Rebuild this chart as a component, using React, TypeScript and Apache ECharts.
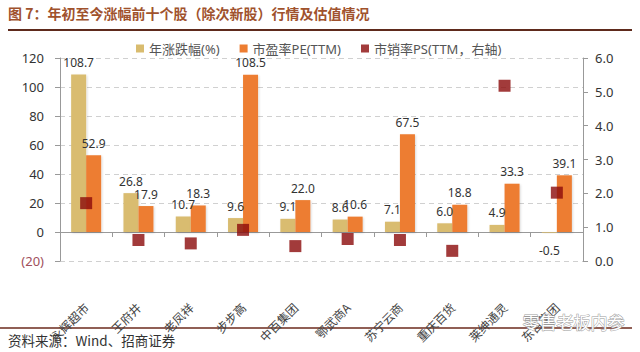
import React, { useEffect, useRef } from "react";
import * as echarts from "echarts";

const categories = ["永辉超市", "王府井", "老凤祥", "步步高", "中百集团", "鄂武商A", "苏宁云商", "重庆百货", "莱绅通灵", "东百集团"];
const yearReturn = [108.7, 26.8, 10.7, 9.6, 9.1, 8.6, 7.1, 6.0, 4.9, -0.5];
const peTTM = [52.9, 17.9, 18.3, 108.5, 22.0, 10.6, 67.5, 18.8, 33.3, 39.1];
const psTTM = [1.71, 0.62, 0.52, 0.92, 0.44, 0.65, 0.62, 0.3, 5.18, 2.02];
const seriesNames = ["年涨跌幅(%)", "市盈率PE(TTM)", "市销率PS(TTM，右轴)"];
const titleText = "图 7：年初至今涨幅前十个股（除次新股）行情及估值情况";
const sourceText = "资料来源：Wind、招商证券";
const watermarkText = "零售老板内参";

const FONT = "'Noto Sans', 'Noto Sans CJK SC', sans-serif";

export default function App() {
  const ref = useRef<HTMLDivElement>(null);
  useEffect(() => {
    if (!ref.current) return;
    const chart = echarts.init(ref.current, undefined, { renderer: "svg" });
    const labelStyle = {
      show: true,
      position: "top" as const,
      distance: 6,
      fontSize: 12,
      color: "#333",
      fontFamily: FONT,
      formatter: (p: any) => Number(p.value).toFixed(1),
    };
    chart.setOption({
      animation: false,
      backgroundColor: "#fff",
      textStyle: { fontFamily: FONT },
      grid: { left: 60, right: 57, top: 58, bottom: 91, containLabel: false },
      legend: {
        top: 37,
        left: 131,
        itemWidth: 8,
        itemHeight: 8,
        itemGap: 20,
        icon: "rect",
        textStyle: { fontSize: 13, color: "#555", fontFamily: FONT },
        data: seriesNames,
      },
      xAxis: {
        type: "category",
        data: categories,
        axisLine: { onZero: true, lineStyle: { color: "#999", width: 1 } },
        axisTick: { show: true, length: 5, lineStyle: { color: "#999" } },
        axisLabel: { rotate: 45, margin: 44, fontSize: 12, color: "#444", fontFamily: "'Noto Sans CJK SC', serif" },
      },
      yAxis: [
        {
          type: "value",
          min: -20,
          max: 120,
          interval: 20,
          axisLine: { show: true, lineStyle: { color: "#999" } },
          axisTick: { show: true, length: 5, lineStyle: { color: "#999" } },
          axisLabel: {
            margin: 16,
            fontSize: 13,
            color: "#333",
            formatter: (v: number) => (v < 0 ? "{n|(" + -v + ")}" : String(v)),
            rich: { n: { color: "#A0505C", fontSize: 13 } },
          },
          splitLine: { show: true, lineStyle: { color: "#d0d0d0", type: [5, 4] } },
        },
        {
          type: "value",
          min: 0,
          max: 6,
          interval: 1,
          position: "right",
          axisLine: { show: true, lineStyle: { color: "#999" } },
          axisTick: { show: true, length: 5, lineStyle: { color: "#999" } },
          axisLabel: { margin: 12, fontSize: 13, color: "#333", formatter: (v: number) => v.toFixed(1) },
          splitLine: { show: false },
        },
      ],
      series: [
        {
          name: seriesNames[0],
          type: "bar",
          barWidth: 15,
          barGap: "0%",
          itemStyle: { color: "#D9BC6F", shadowBlur: 2, shadowColor: "rgba(0,0,0,0.15)", shadowOffsetX: 1, shadowOffsetY: 1 },
          label: labelStyle,
          data: yearReturn.map((v) => (v < 0 ? { value: v, label: { position: "bottom", distance: 12 } } : v)),
        },
        {
          name: seriesNames[1],
          type: "bar",
          barWidth: 15,
          itemStyle: { color: "#ED7D31", shadowBlur: 2, shadowColor: "rgba(0,0,0,0.15)", shadowOffsetX: 1, shadowOffsetY: 1 },
          label: labelStyle,
          data: peTTM,
        },
        {
          name: seriesNames[2],
          type: "scatter",
          yAxisIndex: 1,
          symbol: "rect",
          symbolSize: 12,
          itemStyle: { color: "#8B0A0A" },
          z: 5,
          data: psTTM,
        },
      ],
      graphic: [
        {
          type: "text",
          left: 8,
          top: 6,
          style: { text: titleText, fontSize: 14, fontWeight: "bold", fill: "#A0522D", fontFamily: "'Noto Sans CJK SC', sans-serif" },
        },
        { type: "line", shape: { x1: 8, y1: 30, x2: 632, y2: 30 }, style: { stroke: "#5E2A1C", lineWidth: 2 } },
        { type: "line", shape: { x1: 0, y1: 328, x2: 632, y2: 328 }, style: { stroke: "#6B2A1C", lineWidth: 1.5 } },
        {
          type: "text",
          left: 8,
          top: 333,
          style: { text: sourceText, fontSize: 13.5, fill: "#333", fontFamily: "'Noto Sans CJK SC', sans-serif" },
        },
        {
          type: "text",
          left: 522,
          top: 312,
          z: 100,
          style: {
            text: watermarkText,
            fontSize: 17,
            fill: "#ffffff",
            stroke: "#9a9a9a",
            lineWidth: 1,
            fontFamily: "'Noto Sans CJK SC', sans-serif",
          },
        },
      ],
    });
    return () => chart.dispose();
  }, []);
  return <div ref={ref} style={{ position: "fixed", left: 0, top: 0, width: 640, height: 352 }} />;
}
